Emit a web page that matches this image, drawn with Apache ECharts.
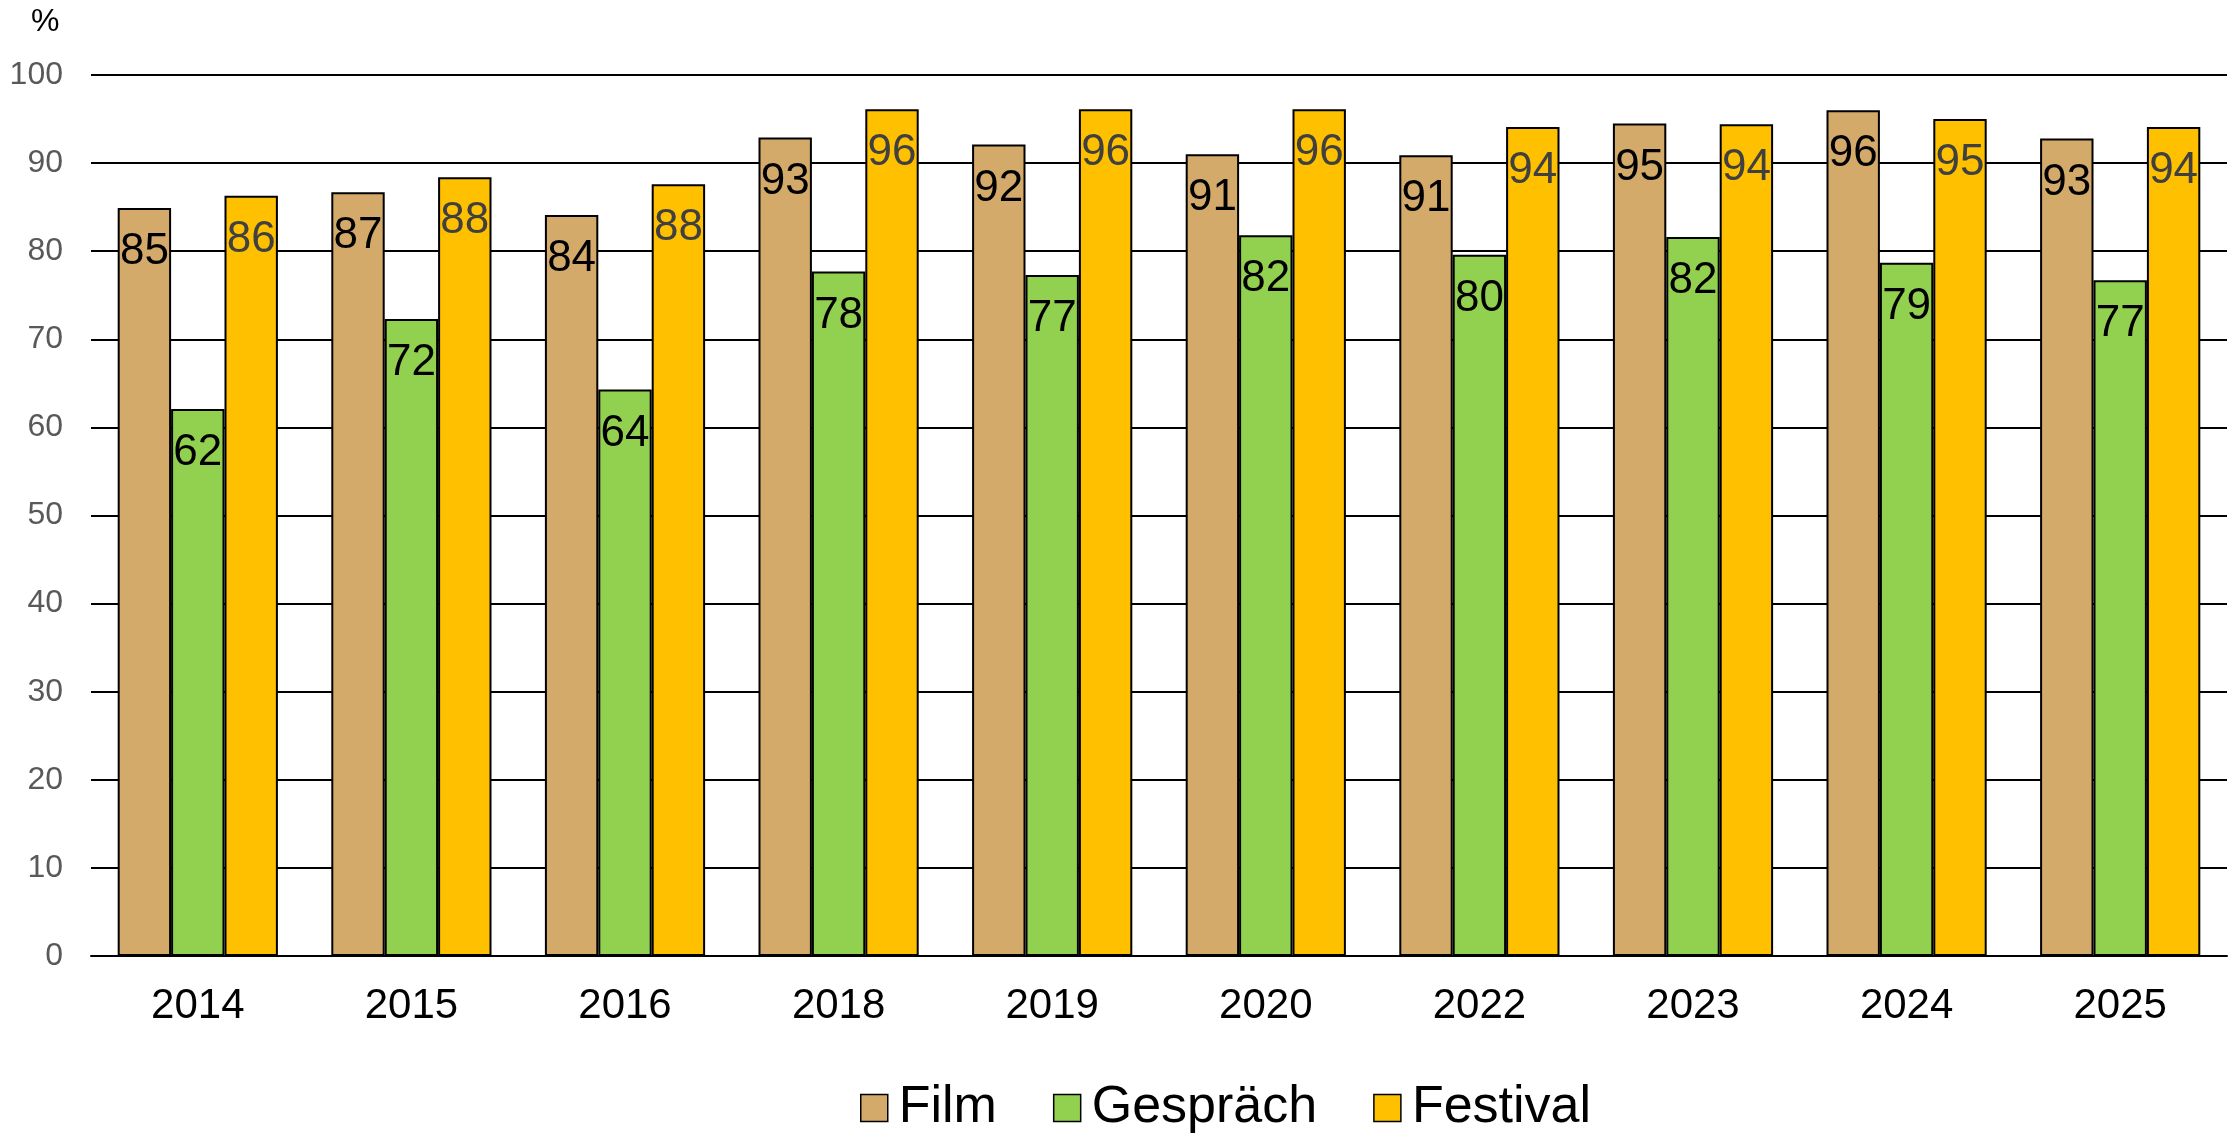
<!DOCTYPE html>
<html lang="de">
<head>
    <meta charset="UTF-8">
    <title>Film / Gespräch / Festival</title>
    <script src="https://cdn.jsdelivr.net/npm/echarts@6/dist/echarts.min.js"></script>
    <style>
        html, body { margin: 0; padding: 0; background: #fff; }
        #chart { width: 2230px; height: 1138px; }
    </style>
</head>
<body>
    <div id="chart"></div>
<script>
    // Daten (Werte in %)
    let years = ['2014', '2015', '2016', '2018', '2019', '2020', '2022', '2023', '2024', '2025'];
    let film = [84.9, 86.7, 84.1, 92.9, 92.1, 91.0, 90.9, 94.5, 96.0, 92.8];
    let gespraech = [62.1, 72.3, 64.3, 77.7, 77.3, 81.8, 79.6, 81.6, 78.7, 76.7];
    let festival = [86.3, 88.4, 87.6, 96.1, 96.1, 96.1, 94.1, 94.4, 95.0, 94.1];
    let yTicks = { min: 0, max: 100, step: 10 };

    let font = '"Liberation Sans", Arial, sans-serif';

    function barSeries(name, data, color, labelColor) {
        return {
            name: name,
            type: 'bar',
            data: data,
            barGap: '0%',
            barCategoryGap: '25%',
            itemStyle: { color: color, borderColor: '#000', borderWidth: 2 },
            label: {
                show: true,
                position: 'insideTop',
                distance: 22,
                fontSize: 44,
                fontFamily: font,
                color: labelColor,
                formatter: function (p) { return Math.round(p.value); }
            }
        };
    }

    let chart = echarts.init(document.getElementById('chart'));
    chart.setOption({
        animation: false,
        textStyle: { fontFamily: font },
        grid: { left: 91, right: 3, top: 75, bottom: 182 },
        graphic: [{
            type: 'text',
            left: 31,
            top: 6,
            style: { text: '%', fontSize: 32, fontFamily: font, fill: '#000' }
        }],
        legend: {
            left: 855,
            top: 1077,
            icon: 'rect',
            itemWidth: 27,
            itemHeight: 27,
            itemGap: 56,
            itemStyle: { borderColor: '#000', borderWidth: 1.5 },
            textStyle: { fontSize: 52, color: '#000', fontFamily: font, padding: [0, 0, 0, 6] }
        },
        xAxis: {
            type: 'category',
            data: years,
            axisTick: { show: false },
            axisLine: { lineStyle: { color: '#000', width: 2 } },
            axisLabel: { fontSize: 42, color: '#000', margin: 29 }
        },
        yAxis: {
            type: 'value',
            min: yTicks.min,
            max: yTicks.max,
            interval: yTicks.step,
            axisLine: { show: false },
            axisTick: { show: false },
            splitLine: { lineStyle: { color: '#000', width: 2 } },
            axisLabel: { fontSize: 32, color: '#595959', margin: 28 }
        },
        series: [
            barSeries('Film', film, '#D4AA6B', '#000'),
            barSeries('Gespräch', gespraech, '#92D050', '#000'),
            barSeries('Festival', festival, '#FFC000', '#404040')
        ]
    });
</script>
</body>
</html>
